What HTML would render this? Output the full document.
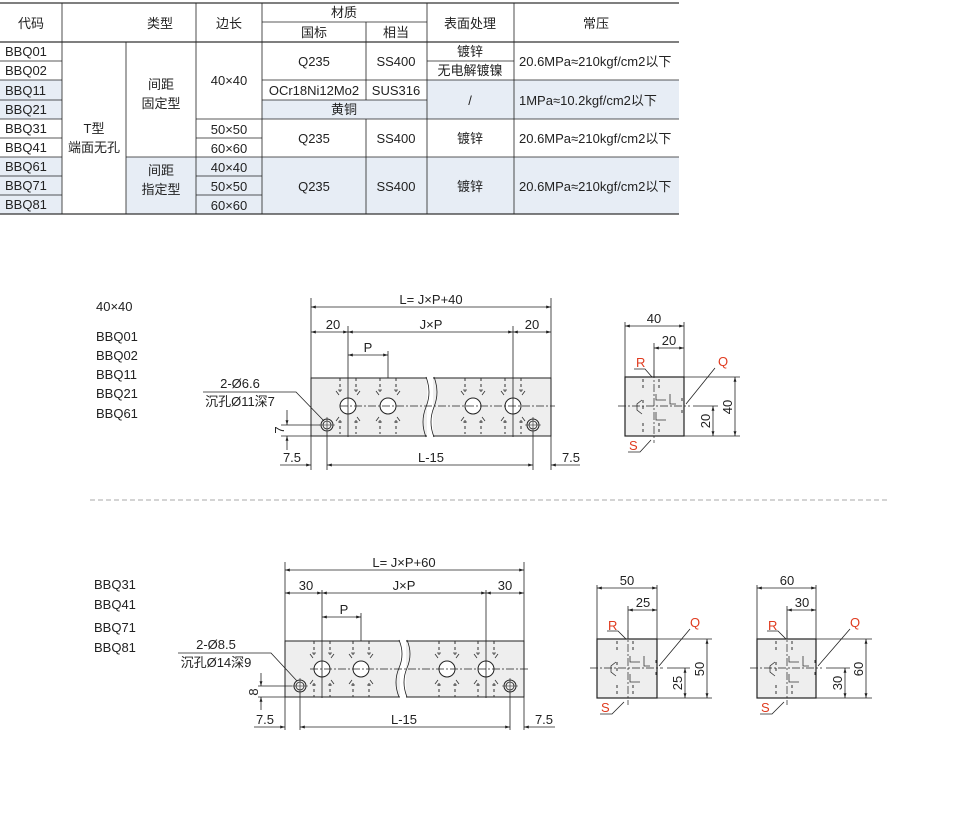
<!DOCTYPE html>
<html><head><meta charset="utf-8"><style>
html,body{margin:0;padding:0;background:#fff;}
svg{display:block;font-family:"Liberation Sans","Noto Sans CJK SC",sans-serif;}
.t{font-size:13px;fill:#222;}
.r{font-size:13px;fill:#e03a1e;}
.l{stroke:#222;stroke-width:0.8;fill:none;}
.c{stroke:#222;stroke-width:0.7;fill:none;stroke-dasharray:8 2 2 2;}
.d{stroke:#333;stroke-width:1;fill:none;stroke-dasharray:3 3;}
</style></head><body>
<svg width="972" height="817" viewBox="0 0 972 817" xmlns="http://www.w3.org/2000/svg">
<defs>
<marker id="a" viewBox="0 0 10 10" refX="10" refY="5" markerWidth="8" markerHeight="6" orient="auto-start-reverse"><path d="M0,2 L10,5 L0,8 z" fill="#222"/></marker>
<g id="h">
 <circle r="8" fill="#fff" stroke="#222" stroke-width="1"/>
 <path class="d" d="M-8,-28 V-14 M8,-28 V-14 M-8,14 V28 M8,14 V28"/>
 <path d="M-9,-11 l-3,-4 M9,-11 l3,-4 M-9,11 l-3,4 M9,11 l3,4 M-10,-16 h4 M6,-16 h4 M-10,16 h4 M6,16 h4" stroke="#333" stroke-width="0.8"/>
</g>
<g id="s"><circle r="6" fill="none" stroke="#222" stroke-width="1"/><circle r="4" fill="none" stroke="#222" stroke-width="0.8"/><path d="M-8,0 H8 M0,-8 V8" stroke="#222" stroke-width="0.6"/></g>
<g id="f">
 <path class="d" d="M-11,-27 V-17 M-11,-6 V6 M-11,17 V27 M5,-27 V-17 M5,17 V27 M28,-8 V-2 M28,4 V10"/>
 <path d="M-12,-6 l-5,4 v6 l5,4 M2,-12 v6 h10 M2,6 v8 h10 M16,-12 v10 h6" stroke="#333" stroke-width="0.8" fill="none"/>
</g>
</defs>

<!-- TABLE -->
<g>
<rect x="0" y="80" width="62" height="39" fill="#e7edf5"/>
<rect x="262" y="80" width="417" height="39" fill="#e7edf5"/>
<rect x="262" y="80" width="165" height="20" fill="#fff"/>
<rect x="0" y="157" width="62" height="57" fill="#e7edf5"/>
<rect x="126" y="157" width="553" height="57" fill="#e7edf5"/>
<path d="M0,3 H679 M0,42 H679 M0,214 H679" stroke="#333" stroke-width="1.2"/>
<path class="l" d="M62,3 V214 M126,42 V214 M196,3 V214 M262,3 V214 M366,22 V100 M366,119 V214 M427,3 V214 M514,3 V214 M262,22 H427
M0,61 H62 M0,80 H62 M262,80 H679 M0,100 H62 M0,119 H62 M196,119 H679 M0,138 H62 M0,157 H62 M0,176 H62 M0,195 H62
M126,157 H679 M196,138 H262 M196,176 H262 M196,195 H262 M427,61 H514 M262,100 H427" stroke="#555"/>
<g class="t" text-anchor="middle">
<text x="31" y="28">代码</text><text x="160" y="28">类型</text><text x="229" y="28">边长</text>
<text x="344" y="17">材质</text><text x="314" y="37">国标</text><text x="396" y="37">相当</text>
<text x="470" y="28">表面处理</text><text x="596" y="28">常压</text>
</g>
<g class="t">
<text x="5" y="56">BBQ01</text><text x="5" y="75">BBQ02</text><text x="5" y="95">BBQ11</text><text x="5" y="114">BBQ21</text>
<text x="5" y="133">BBQ31</text><text x="5" y="152">BBQ41</text><text x="5" y="171">BBQ61</text><text x="5" y="190">BBQ71</text><text x="5" y="209">BBQ81</text>
</g>
<g class="t" text-anchor="middle">
<text x="94" y="133">T型</text><text x="94" y="152">端面无孔</text>
<text x="161" y="89">间距</text><text x="161" y="108">固定型</text>
<text x="161" y="175">间距</text><text x="161" y="194">指定型</text>
<text x="229" y="85">40×40</text><text x="229" y="134">50×50</text><text x="229" y="153">60×60</text>
<text x="229" y="172">40×40</text><text x="229" y="191">50×50</text><text x="229" y="210">60×60</text>
<text x="314" y="66">Q235</text><text x="396" y="66">SS400</text>
<text x="470" y="56">镀锌</text><text x="470" y="75">无电解镀镍</text>
<text x="314" y="95">OCr18Ni12Mo2</text><text x="396" y="95">SUS316</text><text x="344" y="114">黄铜</text>
<text x="470" y="105">/</text>
<text x="314" y="143">Q235</text><text x="396" y="143">SS400</text><text x="470" y="143">镀锌</text>
<text x="314" y="191">Q235</text><text x="396" y="191">SS400</text><text x="470" y="191">镀锌</text>
</g>
<g class="t">
<text x="519" y="66">20.6MPa≈210kgf/cm2以下</text>
<text x="519" y="105">1MPa≈10.2kgf/cm2以下</text>
<text x="519" y="143">20.6MPa≈210kgf/cm2以下</text>
<text x="519" y="191">20.6MPa≈210kgf/cm2以下</text>
</g>
</g>

<!-- left labels -->
<g class="t">
<text x="96" y="311">40×40</text>
<text x="96" y="341">BBQ01</text><text x="96" y="360">BBQ02</text><text x="96" y="379">BBQ11</text><text x="96" y="398">BBQ21</text><text x="96" y="418">BBQ61</text>
<text x="94" y="589">BBQ31</text><text x="94" y="609">BBQ41</text><text x="94" y="632">BBQ71</text><text x="94" y="652">BBQ81</text>
</g>

<!-- TOP FRONT VIEW -->
<rect x="311" y="378" width="240" height="58" fill="#eee" stroke="#222" stroke-width="1"/>
<rect x="427" y="377" width="6" height="60" fill="#fff"/>
<path d="M426,377 q6,15 0,30 q-6,15 0,30 M434,377 q6,15 0,30 q-6,15 0,30" stroke="#222" fill="none" stroke-width="0.8"/>
<use href="#h" x="348" y="406"/><use href="#h" x="388" y="406"/><use href="#h" x="473" y="406"/><use href="#h" x="513" y="406"/>
<use href="#s" x="327" y="425"/><use href="#s" x="533" y="425"/>
<path class="c" d="M340,406 H555"/>
<path class="l" d="M311,378 V298 M551,378 V298 M348,437 V326 M388,378 V351 M513,437 V326 M327,432 V470 M533,432 V470 M311,436 V470 M551,436 V470"/>
<path class="l" d="M311,307 H551" marker-start="url(#a)" marker-end="url(#a)"/>
<path class="l" d="M311,332 H348" marker-start="url(#a)" marker-end="url(#a)"/>
<path class="l" d="M348,332 H513" marker-start="url(#a)" marker-end="url(#a)"/>
<path class="l" d="M513,332 H551" marker-start="url(#a)" marker-end="url(#a)"/>
<path class="l" d="M348,355 H388" marker-start="url(#a)" marker-end="url(#a)"/>
<path class="l" d="M327,465 H533" marker-start="url(#a)" marker-end="url(#a)"/>
<path class="l" d="M280,465 H311" marker-end="url(#a)"/><path class="l" d="M580,465 H551" marker-end="url(#a)"/>
<path class="l" d="M281,425 H320 M281,436 H311"/>
<path class="l" d="M287,410 V425" marker-end="url(#a)"/><path class="l" d="M287,450 V436" marker-end="url(#a)"/>
<path class="l" d="M203,392 H296 L324,421"/>
<g class="t" text-anchor="middle">
<text x="431" y="304">L= J×P+40</text><text x="333" y="329">20</text><text x="431" y="329">J×P</text><text x="532" y="329">20</text>
<text x="368" y="352">P</text><text x="292" y="462">7.5</text><text x="431" y="462">L-15</text><text x="571" y="462">7.5</text>
<text x="240" y="388">2-Ø6.6</text><text x="240" y="406">沉孔Ø11深7</text>
<text x="284" y="430" transform="rotate(-90 284 430)">7</text>
</g>

<!-- TOP SIDE VIEW -->
<rect x="625" y="377" width="59" height="59" fill="#eee" stroke="#222" stroke-width="1.2"/>
<use href="#f" x="654" y="406"/>
<path class="c" d="M618,406 H690 M654,370 V443"/>
<path class="l" d="M625,377 V322 M684,377 V322 M654,377 V343 M684,377 H740 M684,436 H740 M693,406 H718"/>
<path class="l" d="M625,326 H684" marker-start="url(#a)" marker-end="url(#a)"/>
<path class="l" d="M654,348 H684" marker-start="url(#a)" marker-end="url(#a)"/>
<path class="l" d="M735,377 V436" marker-start="url(#a)" marker-end="url(#a)"/>
<path class="l" d="M713,406 V436" marker-start="url(#a)" marker-end="url(#a)"/>
<path class="l" d="M634,369 H645 L652,377 M715,368 L686,404 M628,452 H640 L651,440"/>
<g class="t" text-anchor="middle">
<text x="654" y="323">40</text><text x="669" y="345">20</text>
<text x="732" y="407" transform="rotate(-90 732 407)">40</text>
<text x="710" y="421" transform="rotate(-90 710 421)">20</text>
</g>
<text class="r" x="636" y="367">R</text><text class="r" x="718" y="366">Q</text><text class="r" x="629" y="450">S</text>

<!-- separator -->
<path d="M90,500 H887" stroke="#aaa" stroke-width="1" stroke-dasharray="5 3"/>

<!-- BOTTOM FRONT VIEW -->
<rect x="285" y="641" width="239" height="56" fill="#eee" stroke="#222" stroke-width="1"/>
<rect x="400" y="640" width="6" height="58" fill="#fff"/>
<path d="M399,640 q6,14 0,28 q-6,14 0,29 M407,640 q6,14 0,28 q-6,14 0,29" stroke="#222" fill="none" stroke-width="0.8"/>
<use href="#h" x="322" y="669"/><use href="#h" x="361" y="669"/><use href="#h" x="447" y="669"/><use href="#h" x="486" y="669"/>
<use href="#s" x="300" y="686"/><use href="#s" x="510" y="686"/>
<path class="c" d="M310,669 H530"/>
<path class="l" d="M285,641 V562 M524,641 V562 M322,698 V590 M361,641 V613 M486,698 V590 M300,693 V730 M510,693 V730 M285,697 V730 M524,697 V730"/>
<path class="l" d="M285,570 H524" marker-start="url(#a)" marker-end="url(#a)"/>
<path class="l" d="M285,593 H322" marker-start="url(#a)" marker-end="url(#a)"/>
<path class="l" d="M322,593 H486" marker-start="url(#a)" marker-end="url(#a)"/>
<path class="l" d="M486,593 H524" marker-start="url(#a)" marker-end="url(#a)"/>
<path class="l" d="M322,617 H361" marker-start="url(#a)" marker-end="url(#a)"/>
<path class="l" d="M300,727 H510" marker-start="url(#a)" marker-end="url(#a)"/>
<path class="l" d="M254,727 H285" marker-end="url(#a)"/><path class="l" d="M555,727 H524" marker-end="url(#a)"/>
<path class="l" d="M258,686 H292 M258,697 H285"/>
<path class="l" d="M261,673 V686" marker-end="url(#a)"/><path class="l" d="M261,710 V697" marker-end="url(#a)"/>
<path class="l" d="M178,653 H271 L297,681"/>
<g class="t" text-anchor="middle">
<text x="404" y="567">L= J×P+60</text><text x="306" y="590">30</text><text x="404" y="590">J×P</text><text x="505" y="590">30</text>
<text x="344" y="614">P</text><text x="265" y="724">7.5</text><text x="404" y="724">L-15</text><text x="544" y="724">7.5</text>
<text x="216" y="649">2-Ø8.5</text><text x="216" y="667">沉孔Ø14深9</text>
<text x="258" y="692" transform="rotate(-90 258 692)">8</text>
</g>

<!-- BOTTOM SIDE VIEW 50 -->
<rect x="597" y="639" width="60" height="59" fill="#eee" stroke="#222" stroke-width="1.2"/>
<use href="#f" x="628" y="668"/>
<path class="c" d="M590,668 H663 M628,630 V705"/>
<path class="l" d="M597,639 V585 M657,639 V585 M628,639 V606 M657,639 H712 M657,698 H712 M667,668 H690"/>
<path class="l" d="M597,588 H657" marker-start="url(#a)" marker-end="url(#a)"/>
<path class="l" d="M628,610 H657" marker-start="url(#a)" marker-end="url(#a)"/>
<path class="l" d="M707,639 V698" marker-start="url(#a)" marker-end="url(#a)"/>
<path class="l" d="M685,668 V698" marker-start="url(#a)" marker-end="url(#a)"/>
<path class="l" d="M607,631 H618 L626,639 M690,629 L659,666 M600,714 H612 L624,702"/>
<g class="t" text-anchor="middle">
<text x="627" y="585">50</text><text x="643" y="607">25</text>
<text x="704" y="669" transform="rotate(-90 704 669)">50</text>
<text x="682" y="683" transform="rotate(-90 682 683)">25</text>
</g>
<text class="r" x="608" y="630">R</text><text class="r" x="690" y="627">Q</text><text class="r" x="601" y="712">S</text>

<!-- BOTTOM SIDE VIEW 60 -->
<rect x="757" y="639" width="59" height="59" fill="#eee" stroke="#222" stroke-width="1.2"/>
<use href="#f" x="787" y="668"/>
<path class="c" d="M750,668 H822 M787,630 V705"/>
<path class="l" d="M757,639 V585 M816,639 V585 M787,639 V606 M816,639 H872 M816,698 H872 M826,668 H850"/>
<path class="l" d="M757,588 H816" marker-start="url(#a)" marker-end="url(#a)"/>
<path class="l" d="M787,610 H816" marker-start="url(#a)" marker-end="url(#a)"/>
<path class="l" d="M866,639 V698" marker-start="url(#a)" marker-end="url(#a)"/>
<path class="l" d="M845,668 V698" marker-start="url(#a)" marker-end="url(#a)"/>
<path class="l" d="M767,631 H778 L786,639 M850,629 L818,666 M760,714 H772 L784,702"/>
<g class="t" text-anchor="middle">
<text x="787" y="585">60</text><text x="802" y="607">30</text>
<text x="863" y="669" transform="rotate(-90 863 669)">60</text>
<text x="842" y="683" transform="rotate(-90 842 683)">30</text>
</g>
<text class="r" x="768" y="630">R</text><text class="r" x="850" y="627">Q</text><text class="r" x="761" y="712">S</text>
</svg>
</body></html>
